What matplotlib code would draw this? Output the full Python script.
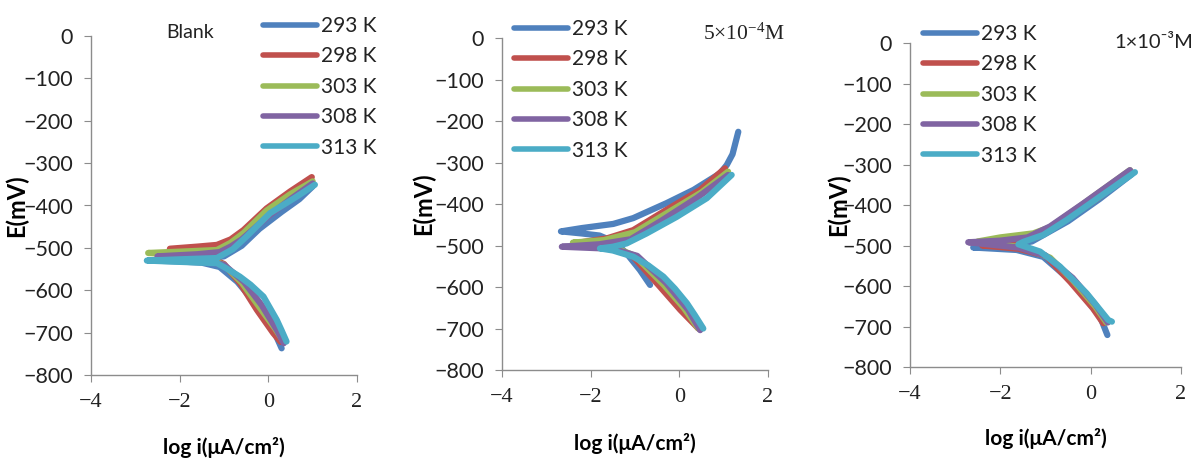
import matplotlib
matplotlib.use('Agg')
import matplotlib.pyplot as plt

plt.rcParams['font.family'] = ['Lato', 'DejaVu Sans']
plt.rcParams['mathtext.fontset'] = 'custom'
plt.rcParams['mathtext.rm'] = 'Liberation Serif'

temps = ['293 K', '298 K', '303 K', '308 K', '313 K']
colors = ['#4F81BD', '#C0504D', '#9BBB59', '#8064A2', '#4BACC6']

# Blank: each trace runs cathodic end -> Ecorr tip -> anodic end
blank_logi = [
    [0.30, 0.10, -0.30, -0.70, -1.10, -1.50, -2.00, -2.60, -2.00, -1.40, -1.00, -0.60, -0.20, 0.30, 0.70, 1.00],
    [0.28, 0.11, -0.26, -0.64, -1.00, -1.50, -2.22, -1.60, -1.16, -0.85, -0.56, -0.04, 0.49, 0.98],
    [0.35, 0.15, -0.20, -0.60, -1.00, -1.50, -2.71, -1.80, -1.16, -0.85, -0.56, -0.04, 0.50, 1.00],
    [0.35, 0.20, -0.15, -0.55, -1.00, -1.60, -2.50, -1.60, -1.10, -0.85, -0.60, 0.00, 0.50, 1.00],
    [0.41, 0.30, 0.19, -0.11, -0.40, -0.64, -0.95, -1.16, -2.00, -2.74, -2.00, -1.16, -0.80, -0.49, 0.04, 0.64, 1.05],
]
blank_E = [
    [-737, -690, -630, -580, -545, -535, -532, -530, -527, -525, -520, -495, -455, -415, -385, -355],
    [-722, -701, -646, -583, -538, -515, -502, -497, -493, -480, -458, -407, -367, -333],
    [-722, -690, -640, -582, -540, -520, -512, -508, -505, -488, -465, -412, -373, -343],
    [-725, -695, -635, -580, -540, -525, -520, -515, -510, -497, -480, -425, -385, -348],
    [-721, -695, -670, -615, -587, -568, -548, -536, -533, -530, -527, -524, -503, -473, -418, -379, -351],
]

# 5x10^-4 M
c5_logi = [
    [-0.66, -0.89, -1.19, -1.45, -1.80, -2.20, -2.67, -2.20, -1.49, -1.04, -0.29, 0.32, 0.92, 1.07, 1.20, 1.33],
    [0.43, 0.02, -0.44, -1.04, -1.50, -2.20, -1.64, -1.04, -0.29, 0.47, 1.03],
    [0.43, 0.10, -0.35, -1.00, -1.50, -2.40, -1.70, -1.00, -0.25, 0.50, 1.10],
    [0.47, 0.20, -0.30, -0.95, -1.50, -2.65, -1.80, -1.10, -0.40, 0.40, 1.10],
    [0.54, 0.35, 0.17, -0.10, -0.36, -0.70, -1.04, -1.50, -1.79, -1.50, -1.19, -0.74, -0.06, 0.62, 1.18],
]
c5_E = [
    [-595, -559, -519, -492, -476, -471, -466, -458, -448, -434, -398, -366, -326, -306, -280, -226],
    [-700, -655, -599, -527, -505, -492, -483, -463, -414, -366, -314],
    [-700, -650, -595, -525, -503, -493, -487, -468, -420, -372, -322],
    [-704, -655, -590, -525, -508, -503, -497, -485, -440, -385, -330],
    [-700, -668, -639, -604, -575, -548, -527, -512, -507, -503, -495, -471, -431, -386, -330],
]

# 1x10^-3 M
c10_logi = [
    [0.37, 0.21, -0.38, -1.05, -1.64, -2.60, -1.80, -1.30, -0.90, -0.50, 0.20, 0.90],
    [0.28, 0.05, -0.45, -1.00, -1.60, -2.40, -1.80, -1.20, -0.60, 0.20, 0.90],
    [0.35, 0.10, -0.40, -0.90, -1.50, -2.50, -2.00, -1.27, -0.90, -0.20, 0.87],
    [0.38, 0.10, -0.40, -1.00, -1.60, -2.71, -2.00, -1.40, -0.90, -0.16, 0.87],
    [0.47, 0.39, -0.09, -0.68, -1.12, -1.60, -1.49, -1.05, -0.53, 0.21, 0.98],
]
c10_E = [
    [-721, -676, -593, -528, -511, -505, -500, -490, -465, -440, -385, -325],
    [-692, -655, -590, -525, -508, -500, -493, -480, -440, -380, -318],
    [-690, -650, -585, -530, -505, -490, -480, -470, -455, -400, -314],
    [-690, -645, -580, -525, -505, -492, -488, -480, -453, -396, -314],
    [-688, -684, -618, -552, -515, -497, -491, -474, -437, -379, -319],
]

panels = [
    dict(logi=blank_logi, E=blank_E, label='Blank', serif=False),
    dict(logi=c5_logi, E=c5_E, label=r'$\mathrm{5{\times}10^{-4}M}$', serif=True),
    dict(logi=c10_logi, E=c10_E, label='1×10⁻³M', serif=False),
]

W, H = 1196, 461
fig = plt.figure(figsize=(W / 100, H / 100), dpi=100)

# axes boxes in pixels: left, right, top, bottom
boxes = [(91, 357, 36, 375), (502, 768, 38, 370), (910, 1181, 43, 367)]
leg_pos = [(263, 16), (514, 19), (923, 24)]
note_pos = [(190, 32), (744, 34), (1154, 43)]
note_size = [14, 15.5, 14.5]
ylab_x = [-0.237, -0.25, -0.221]
xlab_y = [-0.184, -0.19, -0.188]

for i, p in enumerate(panels):
    l, r, t, b = boxes[i]
    ax = fig.add_axes([l / W, 1 - b / H, (r - l) / W, (b - t) / H])
    for k in range(5):
        ax.plot(p['logi'][k], p['E'][k], color=colors[k], lw=4.5,
                solid_capstyle='round', solid_joinstyle='round', label=temps[k])
    ax.set_xlim(-4, 2)
    ax.set_ylim(-800, 0)
    ax.set_xticks([-4, -2, 0, 2])
    ax.set_yticks(range(-800, 1, 100))
    for s in ['top', 'right']:
        ax.spines[s].set_visible(False)
    for s in ['left', 'bottom']:
        ax.spines[s].set_color('#8c8c8c')
        ax.spines[s].set_linewidth(1.0)
    ax.tick_params(axis='both', direction='out', length=5, color='#8c8c8c',
                   labelcolor='#222222')
    ax.tick_params(axis='y', pad=8, labelsize=15.5)
    ax.tick_params(axis='x', pad=8, labelsize=16)
    for lab in ax.get_xticklabels():
        lab.set_family('Liberation Serif')
    ax.set_ylabel('E(mV)', fontsize=17, fontweight='bold')
    ax.yaxis.set_label_coords(ylab_x[i], 0.5)
    ax.set_xlabel('log i(μA/cm²)', fontsize=15, fontweight='bold')
    ax.xaxis.set_label_coords(0.5, xlab_y[i])

    lx, ly = leg_pos[i]
    leg = ax.legend(loc='upper left', bbox_to_anchor=(lx / W, 1 - ly / H),
                    bbox_transform=fig.transFigure, frameon=False, fontsize=15,
                    handlelength=2.6, handletextpad=0.2, labelspacing=0.5,
                    borderpad=0, borderaxespad=0)
    for h in leg.get_lines():
        h.set_linewidth(4)
    for tx in leg.get_texts():
        tx.set_color('#222222')

    nx, ny = note_pos[i]
    fam = 'Liberation Serif' if p['serif'] else 'Lato'
    fig.text(nx / W, 1 - ny / H, p['label'], ha='center', va='center',
             fontsize=note_size[i], family=fam, color='#222222')

fig.savefig('out.png', dpi=100)
